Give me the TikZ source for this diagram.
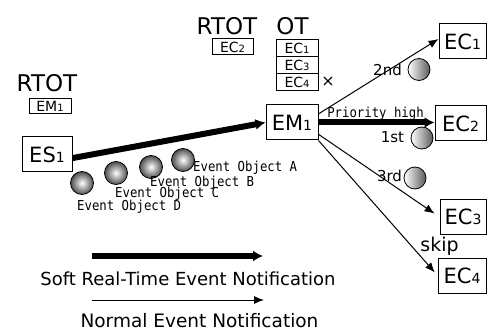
\documentclass[tikz,border=0pt]{standalone}
\usepackage{fontspec}
\setmainfont{DejaVu Sans}
\newfontfamily\gothicmono[FakeStretch=0.9]{DejaVu Sans Mono}
\usetikzlibrary{arrows.meta,calc}

% digit set a little smaller on the baseline, as in EC1, EM1
\newcommand\bignum[1]{{\fontsize{14}{14}\selectfont #1}}
\newcommand\smallnum[1]{{\fontsize{10}{10}\selectfont #1}}

\tikzset{
  bigbox/.style={draw, line width=1pt, inner sep=0pt, minimum height=35pt,
    font=\fontsize{21}{21}\selectfont},
  tagbox/.style={draw, line width=1pt, inner sep=0pt, minimum width=42pt,
    minimum height=17pt, font=\fontsize{14}{14}\selectfont},
  heading/.style={inner sep=0pt, font=\fontsize{23}{23}\selectfont},
  evlabel/.style={inner sep=0pt, anchor=base west, font=\gothicmono\fontsize{13.7}{13.7}\selectfont},
  order/.style={inner sep=0pt, anchor=base, font=\fontsize{15}{15}\selectfont},
  legend/.style={inner sep=0pt, anchor=base, font=\fontsize{18}{18}\selectfont},
  evball/.style={circle, draw, line width=0.8pt, minimum size=23pt, inner sep=0pt,
    shading=radial, inner color=white, outer color=black!70},
  ordball/.style={circle, draw, line width=0.8pt, minimum size=22pt, inner sep=0pt,
    left color=white, right color=black!65},
  softarrow/.style={line width=6pt, -{Latex[length=10pt,width=11pt]}},
  normarrow/.style={line width=1pt, -{Latex[length=10pt,width=8pt]}},
}

\begin{document}
\begin{tikzpicture}[x=1pt,y=-1pt]
\useasboundingbox (0,0) rectangle (487,331);

% tables above the event source and the event manager
\node[heading] (rtotA) at (47,83) {RTOT};
\node[tagbox, minimum height=15pt] (tEM) at (50,106.5) {EM\smallnum{1}};

\node[heading] (rtotB) at (227,26) {RTOT};
\node[tagbox, minimum width=41pt, minimum height=16pt] (tEC2) at (232.5,47) {EC\smallnum{2}};

\node[heading] (ot) at (292.5,26) {OT};
\node[tagbox] (tEC1) at (297,48.5) {EC\smallnum{1}};
\node[tagbox] (tEC3) at (297,65.5) {EC\smallnum{3}};
\node[tagbox] (tEC4) at (297,82.5) {EC\smallnum{4}};
\node[inner sep=0pt, font=\fontsize{16}{16}\selectfont] (cross) at (328,82) {×};

% source, manager and consumers
\node[bigbox, minimum width=50pt] (es) at (47,154.5) {ES\bignum{1}};
\node[bigbox, minimum width=52pt] (em) at (292,122.5) {EM\bignum{1}};
\node[bigbox, minimum width=47pt] (ec1) at (462.5,41.5) {EC\bignum{1}};
\node[bigbox, minimum width=51pt] (ec2) at (460.5,123.5) {EC\bignum{2}};
\node[bigbox, minimum width=46pt, minimum height=34pt] (ec3) at (463,217) {EC\bignum{3}};
\node[bigbox, minimum width=48pt] (ec4) at (462,275.5) {EC\bignum{4}};

% notifications
\draw[softarrow] (es.-8) -- (em.west);
\draw[normarrow] (em.18) -- (ec1.174);
\draw[softarrow] (em.east) -- (em.east -| ec2.west);
\draw[normarrow, shorten >=6pt] (em.-24) -- (ec3.west);
\draw[normarrow, shorten >=4pt] (em.south east) -- (ec4.west);

\node[evlabel, anchor=base] (prio) at (375.5,118) {Priority high};

% event objects travelling from the source
\node[evball] (bA) at (183,160) {};
\node[evball] (bB) at (151,167) {};
\node[evball] (bC) at (116,173) {};
\node[evball] (bD) at (82,183) {};
\node[evlabel] (lA) at (193,172) {Event Object A};
\node[evlabel] (lB) at (150,186.5) {Event Object B};
\node[evlabel] (lC) at (115,198) {Event Object C};
\node[evlabel] (lD) at (77,211) {Event Object D};

% delivery order
\node[ordball] (o2) at (419,69.5) {};
\node[ordball] (o1) at (422,138) {};
\node[ordball] (o3) at (415,178) {};
\node[order] (l2) at (387.5,76) {2nd};
\node[order] (l1) at (392.5,143) {1st};
\node[order] (l3) at (389.5,182) {3rd};
\node[order, font=\fontsize{19}{19}\selectfont] (skip) at (439.5,251) {skip};

% legend
\coordinate (sa) at (92,256);
\coordinate (sb) at (263,256);
\coordinate (na) at (92,300);
\coordinate (nb) at (264,300);
\draw[softarrow] (sa) -- (sb);
\draw[normarrow] (na) -- (nb);
\node[legend] (lsoft) at (188,285) {Soft Real-Time Event Notification};
\node[legend, font=\fontsize{18.5}{18.5}\selectfont] (lnorm) at (199.5,327) {Normal Event Notification};
\end{tikzpicture}
\end{document}
